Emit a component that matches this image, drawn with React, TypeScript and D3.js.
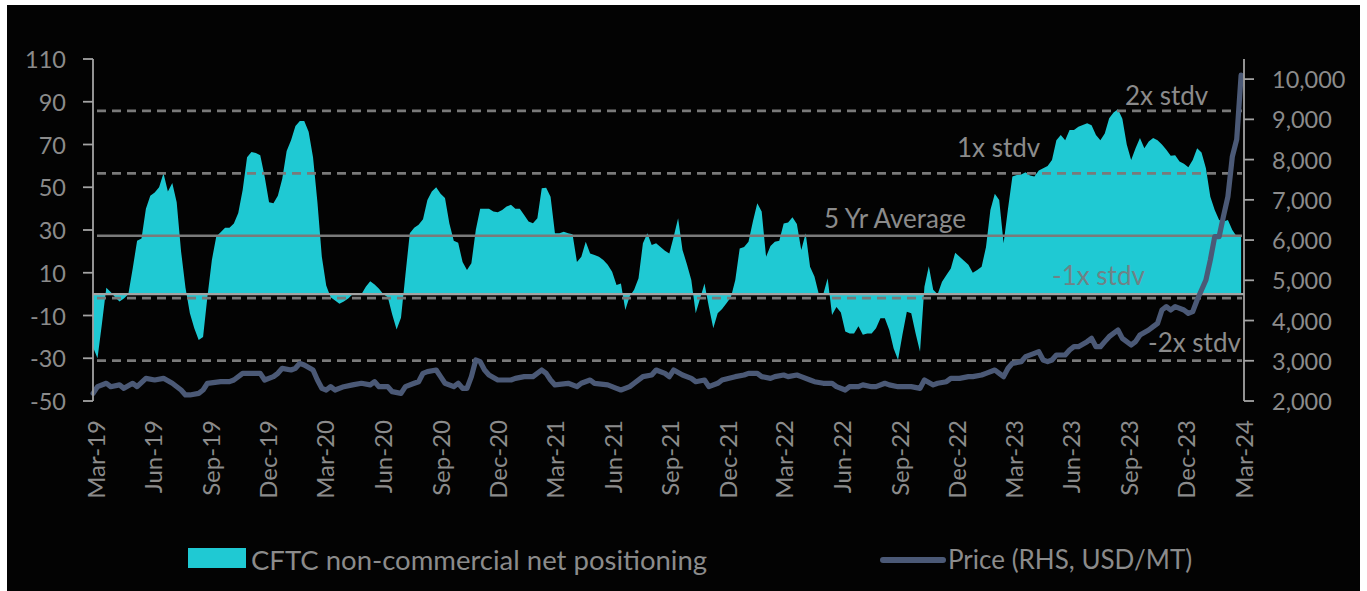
import React from 'react';
import * as d3 from 'd3';

// ---------- DATA ----------
// Weekly CFTC non-commercial net positioning (index = weeks after START_DATE)
const START_DATE = new Date(2019, 1, 26);
const positioning: number[] = [
  -25, -30, -14, 3, 1, -1.5, -3.5, -2, 0, 12,
  25, 26, 40, 46, 47.5, 50, 56.5, 48, 52, 43,
  20, 3, -9, -16, -21.5, -20, -1, 16, 27, 29,
  31, 31, 33, 38, 48.7, 64, 66.5, 66, 65, 55,
  43, 42.5, 46, 54, 67, 72, 78.6, 81, 81, 76,
  64, 43, 17.5, 4, -1.5, -3, -4.5, -3.5, -2, 0,
  0.5, 0, 3.5, 6, 4.5, 2.5, 0, -1.5, -9.5, -16.5,
  -11, 9, 28.5, 31, 32.5, 35, 44, 48, 50, 47,
  45, 33, 25, 24, 15, 11.3, 14.4, 30, 40, 40,
  40, 38.6, 38.3, 39.4, 41, 41.8, 40, 40, 37, 34,
  33.2, 35.5, 49.5, 49.8, 45.6, 28.5, 28.5, 29.2, 28.5, 28,
  15, 17.5, 24.5, 19, 18.3, 17.5, 16, 13.7, 10.5, 4.3,
  5, -7.4, -1, 2, 7.4, 23.8, 28.5, 23, 23.8, 22,
  20.3, 19, 27, 35.5, 20.7, 14, 6.6, -9, -2, 5,
  -6, -16, -9, -7, -4.3, -1.5, 6.6, 21.4, 22, 24.5,
  34, 42.5, 38.6, 17.5, 22.5, 24.5, 25, 33, 33.5, 36,
  32.8, 20.7, 28.5, 12.8, 8.2, 0, 0, 7.4, -9.8, -6,
  -8.6, -17.5, -18.4, -18.4, -15, -19, -18.4, -18.4, -16, -11.3,
  -11.3, -16.8, -25.4, -30.8, -19, -8.2, -9, -18.4, -27, 3.5,
  13, 2, 0, 5.8, 9, 12, 19.4, 17.5, 15.6, 13.7,
  10, 11.3, 12.8, 22, 39.4, 47, 44, 23.8, 40, 55,
  55.7, 56, 57, 55.5, 55, 57.8, 58.9, 60, 62.8, 72,
  74.5, 72, 76.8, 76.8, 78.3, 79.1, 80, 79, 74.5, 72,
  75.2, 82.3, 85, 86.5, 82, 70, 62.8, 68.3, 73, 68.3,
  71.4, 73, 72, 70, 67.5, 64.7, 65, 62, 61, 59.4,
  62.8, 68.3, 66.2, 58.9, 45.6, 39.4, 34.7, 34, 34.7, 30,
  27, 27,
];

// Price (RHS, USD/MT): [week after START_DATE, price]
const price: [number, number][] = [
  [0, 2190], [1, 2356], [3, 2440], [4, 2356], [6, 2400], [7, 2315], [9, 2440], [10, 2356],
  [12, 2563], [14, 2522], [16, 2563], [18, 2440], [20, 2273], [21, 2150], [22, 2150], [24, 2190],
  [25, 2273], [26, 2440], [29, 2480], [31, 2480], [32, 2522], [34, 2688], [36, 2688], [38, 2688],
  [39, 2522], [41, 2605], [42, 2688], [43, 2812], [45, 2770], [46, 2812], [47, 2936], [48, 2895],
  [50, 2770], [51, 2522], [52, 2315], [53, 2273], [54, 2356], [55, 2273], [57, 2356], [59, 2400],
  [61, 2440], [63, 2400], [64, 2480], [65, 2356], [67, 2356], [68, 2232], [70, 2190], [71, 2356],
  [73, 2440], [74, 2480], [75, 2688], [76, 2729], [78, 2770], [79, 2605], [80, 2440], [82, 2356],
  [83, 2440], [84, 2315], [85, 2315], [86, 2605], [87, 3019], [88, 2977], [89, 2770], [90, 2646],
  [92, 2522], [95, 2522], [96, 2563], [98, 2605], [100, 2605], [102, 2770], [103, 2688], [104, 2522],
  [105, 2400], [108, 2440], [110, 2356], [111, 2440], [113, 2522], [114, 2440], [117, 2400], [119, 2315],
  [120, 2273], [122, 2356], [123, 2440], [125, 2605], [127, 2646], [128, 2770], [130, 2688], [131, 2605],
  [132, 2770], [134, 2646], [136, 2563], [137, 2480], [139, 2522], [140, 2356], [142, 2440], [143, 2522],
  [146, 2605], [148, 2646], [149, 2688], [151, 2688], [152, 2605], [154, 2563], [155, 2605], [157, 2646],
  [158, 2605], [160, 2646], [161, 2605], [163, 2522], [164, 2480], [166, 2440], [168, 2440], [169, 2356],
  [171, 2273], [172, 2356], [174, 2356], [175, 2400], [177, 2356], [178, 2356], [180, 2440], [181, 2400],
  [183, 2356], [184, 2356], [186, 2356], [188, 2315], [189, 2522], [191, 2400], [192, 2440], [194, 2480],
  [195, 2563], [197, 2563], [199, 2605], [200, 2605], [202, 2646], [203, 2688], [205, 2770], [206, 2688],
  [207, 2605], [208, 2812], [209, 2936], [211, 2977], [212, 3102], [214, 3185], [215, 3226], [216, 3019],
  [217, 2977], [218, 3019], [219, 3143], [221, 3143], [222, 3267], [223, 3350], [224, 3350], [226, 3475],
  [227, 3557], [228, 3350], [229, 3350], [230, 3475], [231, 3599], [233, 3765], [234, 3557], [236, 3392],
  [237, 3475], [238, 3640], [240, 3765], [241, 3848], [242, 3930], [243, 4262], [244, 4345], [245, 4262],
  [246, 4345], [248, 4262], [249, 4179], [250, 4220], [251, 4510], [252, 4759], [253, 5007], [254, 5505],
  [255, 6085], [256, 6085], [257, 6600], [258, 7079], [259, 8073], [260, 8500], [261, 10100],
];

const fiveYearAverage = 27.3;
const stdDev = 29.2;
const bandMultiples = [2, 1, -1, -2];
const bandLabels = ['2x stdv', '1x stdv', '-1x stdv', '-2x stdv'];
const averageLabel = '5 Yr Average';
const leftTicks = [-50, -30, -10, 10, 30, 50, 70, 90, 110];
const rightTicks = [2000, 3000, 4000, 5000, 6000, 7000, 8000, 9000, 10000];
const leftDomain = [-50, 110];
const rightDomain = [2000, 10500];
const xDomain = [new Date(2019, 2, 1), new Date(2024, 2, 1)];
const legendLabels = ['CFTC non-commercial net positioning', 'Price (RHS, USD/MT)'];

// ---------- STYLE ----------
const W = 1367;
const H = 591;
const CYAN = '#1fc9d3';
const PRICE = '#4b5976';
const GRID = '#7a7a7a';
const AXIS = '#a3a3a3';
const TEXT = '#8b8b8b';
const TEXT_ON_CYAN = '#6f8286';
const FONT = 'Lato, "Noto Sans", sans-serif';

const LEFT = 93;
const RIGHT = 1244;
const TOP = 59;
const BOTTOM = 401;

// label placement per band label: [x start, offset above line]
const bandLabelPos: [number, number][] = [
  [1125, 6],
  [957, 16],
  [1052, 13],
  [1148, 9],
];

const weekDate = (w: number) => d3.timeDay.offset(START_DATE, w * 7);

export default function App() {
  const x = d3.scaleTime().domain(xDomain).range([95, 1243]);
  const yL = d3.scaleLinear().domain(leftDomain).range([BOTTOM, TOP]);
  const yR = d3.scaleLinear().domain(rightDomain).range([BOTTOM, TOP]);

  const area = d3
    .area<number>()
    .x((_, i) => x(weekDate(i)))
    .y0(yL(0))
    .y1((d) => yL(d));

  const line = d3
    .line<[number, number]>()
    .x((d) => x(weekDate(d[0])))
    .y((d) => yR(d[1]));

  const xTicks = d3.timeMonths(xDomain[0], d3.timeDay.offset(xDomain[1], 1), 3);
  const fmt = d3.timeFormat('%b-%y');

  return (
    <svg
      width={W}
      height={H}
      style={{ position: 'absolute', left: 0, top: 0, display: 'block' }}
      fontFamily={FONT}
    >
      <rect x={0} y={0} width={W} height={H} fill="#ffffff" />
      <rect x={7} y={5} width={1353} height={H - 5} fill="#030303" />

      {/* positioning area */}
      <path d={area(positioning) || ''} fill={CYAN} />

      {/* stdv bands */}
      {bandMultiples.map((k, i) => (
        <line
          key={'b' + i}
          x1={97}
          x2={1242}
          y1={yL(fiveYearAverage + k * stdDev)}
          y2={yL(fiveYearAverage + k * stdDev)}
          stroke={GRID}
          strokeWidth={2.8}
          strokeDasharray="9,6"
        />
      ))}
      {/* 5 yr average */}
      <line
        x1={97}
        x2={1242}
        y1={yL(fiveYearAverage)}
        y2={yL(fiveYearAverage)}
        stroke={GRID}
        strokeWidth={2.6}
      />
      {/* zero line */}
      <line x1={LEFT} x2={RIGHT} y1={yL(0)} y2={yL(0)} stroke={AXIS} strokeWidth={2.4} />

      {/* price line */}
      <path
        d={line(price) || ''}
        fill="none"
        stroke={PRICE}
        strokeWidth={5.2}
        strokeLinejoin="round"
        strokeLinecap="round"
      />

      {/* band labels */}
      {bandMultiples.map((k, i) => (
        <text
          key={'bl' + i}
          x={bandLabelPos[i][0]}
          y={yL(fiveYearAverage + k * stdDev) - bandLabelPos[i][1]}
          fill={k === -1 ? TEXT_ON_CYAN : TEXT}
          fontSize={26}
        >
          {bandLabels[i]}
        </text>
      ))}
      <text x={824} y={yL(fiveYearAverage) - 8} fill={TEXT} fontSize={26}>
        {averageLabel}
      </text>

      {/* left axis */}
      <line x1={LEFT} x2={LEFT} y1={TOP} y2={BOTTOM} stroke={AXIS} strokeWidth={1.8} />
      {leftTicks.map((t) => (
        <g key={'l' + t}>
          <line x1={LEFT - 10} x2={LEFT} y1={yL(t)} y2={yL(t)} stroke={AXIS} strokeWidth={1.8} />
          <text
            x={66}
            y={yL(t)}
            textAnchor="end"
            dominantBaseline="central"
            fill={TEXT}
            fontSize={23.5}
          >
            {t}
          </text>
        </g>
      ))}

      {/* right axis */}
      <line x1={RIGHT} x2={RIGHT} y1={TOP} y2={BOTTOM} stroke={AXIS} strokeWidth={1.8} />
      {rightTicks.map((t) => (
        <g key={'r' + t}>
          <line x1={RIGHT} x2={RIGHT + 10} y1={yR(t)} y2={yR(t)} stroke={AXIS} strokeWidth={1.8} />
          <text
            x={1272}
            y={yR(t)}
            dominantBaseline="central"
            fill={TEXT}
            fontSize={23.5}
          >
            {d3.format(',')(t)}
          </text>
        </g>
      ))}

      {/* x axis labels */}
      {xTicks.map((d) => (
        <text
          key={'x' + d.getTime()}
          transform={`translate(${x(d)},420) rotate(-90)`}
          textAnchor="end"
          dominantBaseline="central"
          fill={TEXT}
          fontSize={24}
        >
          {fmt(d)}
        </text>
      ))}

      {/* legend */}
      <rect x={188} y={548} width={58} height={20} fill={CYAN} />
      <text x={251} y={559} dominantBaseline="central" fill={TEXT} fontSize={27.5}>
        {legendLabels[0]}
      </text>
      <line
        x1={883}
        x2={943}
        y1={560}
        y2={560}
        stroke={PRICE}
        strokeWidth={6}
        strokeLinecap="round"
      />
      <text x={948} y={559} dominantBaseline="central" fill={TEXT} fontSize={26}>
        {legendLabels[1]}
      </text>
    </svg>
  );
}
